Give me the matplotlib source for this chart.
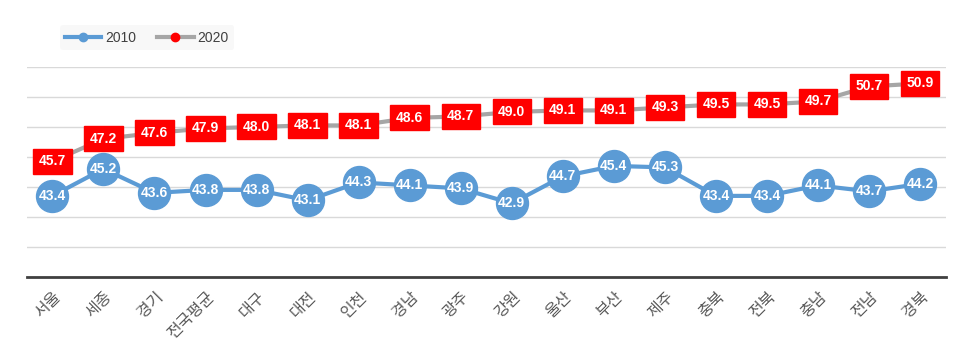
import numpy as np
import matplotlib
matplotlib.use('Agg')
import matplotlib.pyplot as plt

plt.rcParams['font.family'] = ['Noto Sans CJK KR', 'DejaVu Sans']

regions = ['서울', '세종', '경기', '전국평균', '대구', '대전', '인천', '경남', '광주',
           '강원', '울산', '부산', '제주', '충북', '전북', '충남', '전남', '경북']
y2010 = [43.4, 45.2, 43.6, 43.8, 43.8, 43.1, 44.3, 44.1, 43.9,
         42.9, 44.7, 45.4, 45.3, 43.4, 43.4, 44.1, 43.7, 44.2]
y2020 = [45.7, 47.2, 47.6, 47.9, 48.0, 48.1, 48.1, 48.6, 48.7,
         49.0, 49.1, 49.1, 49.3, 49.5, 49.5, 49.7, 50.7, 50.9]

blue = '#5b9bd5'
red = '#ff0000'
grey = '#a6a6a6'

fig = plt.figure(figsize=(9.6, 3.6), dpi=100)
ax = fig.add_axes([0.028, 0.231, 0.957, 0.583])

x = np.arange(len(regions))

ax.plot(x, y2010, color=blue, lw=3, marker='o', ms=23, mfc=blue, mec=blue,
        zorder=3, label='2010')
ax.plot(x, y2020, color=grey, lw=3, marker='o', ms=6, mfc=red, mec=red,
        zorder=3, label='2020')

for xi, v in zip(x, y2010):
    ax.text(xi, v, '{:.1f}'.format(v), ha='center', va='center', color='white',
            fontsize=10, fontweight='bold', family=['Liberation Sans'], zorder=5)
for xi, v in zip(x, y2020):
    ax.text(xi, v, '{:.1f}'.format(v), ha='center', va='center', color='white',
            fontsize=10, fontweight='bold', family=['Liberation Sans'], zorder=5,
            bbox=dict(boxstyle='square,pad=0.4', fc=red, ec=red))

ax.set_xlim(-0.5, len(regions) - 0.5)
ax.set_ylim(38, 52)
ax.set_yticks(np.arange(38, 53, 2))
ax.yaxis.grid(True, color='#d9d9d9', lw=1)
ax.set_axisbelow(True)
ax.tick_params(axis='y', left=False, labelleft=False)
ax.tick_params(axis='x', length=0, pad=8)
ax.set_xticks(x)
ax.set_xticklabels(regions, rotation=45, ha='right', rotation_mode='anchor',
                   fontsize=11.5, color='#595959')
for s in ['top', 'right', 'left']:
    ax.spines[s].set_visible(False)
ax.spines['bottom'].set_color('#404040')
ax.spines['bottom'].set_linewidth(2)

leg = fig.legend(handles=[
    plt.Line2D([], [], color=blue, lw=3, marker='o', ms=6, mfc=blue, mec=blue),
    plt.Line2D([], [], color=grey, lw=3, marker='o', ms=6, mfc=red, mec=red)],
    labels=['2010', '2020'], loc='upper left', bbox_to_anchor=(0.055, 0.95),
    ncol=2, frameon=True, handlelength=2.6, handletextpad=0.3, columnspacing=1.5,
    prop={'family': ['Liberation Sans'], 'size': 10})
leg.get_frame().set_facecolor('#f7f7f7')
leg.get_frame().set_edgecolor('none')
for t in leg.get_texts():
    t.set_color('#404040')

fig.savefig('out.png', dpi=100)
